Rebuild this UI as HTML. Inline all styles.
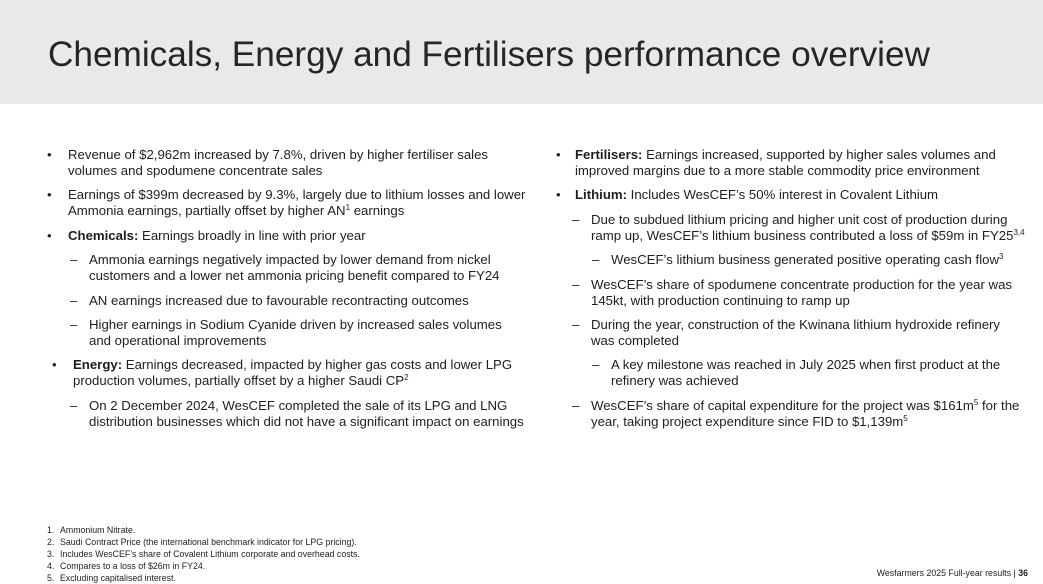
<!DOCTYPE html>
<html>
<head>
<meta charset="utf-8">
<style>
  html, body { margin:0; padding:0; }
  body { width:1043px; height:584px; position:relative; overflow:hidden; background:#ffffff;
         font-family:"Liberation Sans", Arial, sans-serif; color:#1e1e1e; }
  .hdr { position:absolute; left:0; top:0; width:1043px; height:104px; background:#e8e9e9; }
  .title { position:absolute; left:48px; top:37px; font-size:35.2px; line-height:35px; color:#262626; white-space:nowrap; letter-spacing:0; }
  .col { position:absolute; top:147px; font-size:13.2px; line-height:16px; white-space:nowrap; }
  .p { position:relative; margin-bottom:8.4px; }
  .p .m { position:absolute; top:0; }
  b { font-weight:bold; }
  sup { font-size:8px; line-height:0; vertical-align:0; position:relative; top:-5px; }
  .fn { position:absolute; left:0; top:524px; font-size:8.8px; line-height:12px; white-space:nowrap; color:#1e1e1e; }
  .fn div { position:relative; padding-left:60px; }
  .fn span.n { position:absolute; left:47px; }
  .ft { position:absolute; right:15px; top:567px; font-size:8.8px; line-height:12px; white-space:nowrap; color:#1e1e1e; }
</style>
</head>
<body>
<div class="hdr"></div>
<div class="title">Chemicals, Energy and Fertilisers performance overview</div>

<!-- Left column -->
<div class="col" style="left:0;">
  <div class="p" style="padding-left:68px;"><span class="m" style="left:47px;">•</span>Revenue of $2,962m increased by 7.8%, driven by higher fertiliser sales<br>volumes and spodumene concentrate sales</div>
  <div class="p" style="padding-left:68px;"><span class="m" style="left:47px;">•</span>Earnings of $399m decreased by 9.3%, largely due to lithium losses and lower<br>Ammonia earnings, partially offset by higher AN<sup>1</sup> earnings</div>
  <div class="p" style="padding-left:68px;"><span class="m" style="left:47px;">•</span><b>Chemicals:</b> Earnings broadly in line with prior year</div>
  <div class="p" style="padding-left:89px;"><span class="m" style="left:70px;">–</span>Ammonia earnings negatively impacted by lower demand from nickel<br>customers and a lower net ammonia pricing benefit compared to FY24</div>
  <div class="p" style="padding-left:89px;"><span class="m" style="left:70px;">–</span>AN earnings increased due to favourable recontracting outcomes</div>
  <div class="p" style="padding-left:89px;"><span class="m" style="left:70px;">–</span>Higher earnings in Sodium Cyanide driven by increased sales volumes<br>and operational improvements</div>
  <div class="p" style="padding-left:73px;"><span class="m" style="left:52px;">•</span><b>Energy:</b> Earnings decreased, impacted by higher gas costs and lower LPG<br>production volumes, partially offset by a higher Saudi CP<sup>2</sup></div>
  <div class="p" style="padding-left:89px;"><span class="m" style="left:70px;">–</span>On 2 December 2024, WesCEF completed the sale of its LPG and LNG<br>distribution businesses which did not have a significant impact on earnings</div>
</div>

<!-- Right column -->
<div class="col" style="left:0;">
  <div class="p" style="padding-left:575px;"><span class="m" style="left:556px;">•</span><b>Fertilisers:</b> Earnings increased, supported by higher sales volumes and<br>improved margins due to a more stable commodity price environment</div>
  <div class="p" style="padding-left:575px;"><span class="m" style="left:556px;">•</span><b>Lithium:</b> Includes WesCEF’s 50% interest in Covalent Lithium</div>
  <div class="p" style="padding-left:591px;"><span class="m" style="left:572px;">–</span>Due to subdued lithium pricing and higher unit cost of production during<br>ramp up, WesCEF’s lithium business contributed a loss of $59m in FY25<sup>3,4</sup></div>
  <div class="p" style="padding-left:611px;"><span class="m" style="left:592px;">–</span>WesCEF’s lithium business generated positive operating cash flow<sup>3</sup></div>
  <div class="p" style="padding-left:591px;"><span class="m" style="left:572px;">–</span>WesCEF’s share of spodumene concentrate production for the year was<br>145kt, with production continuing to ramp up</div>
  <div class="p" style="padding-left:591px;"><span class="m" style="left:572px;">–</span>During the year, construction of the Kwinana lithium hydroxide refinery<br>was completed</div>
  <div class="p" style="padding-left:611px;"><span class="m" style="left:592px;">–</span>A key milestone was reached in July 2025 when first product at the<br>refinery was achieved</div>
  <div class="p" style="padding-left:591px;"><span class="m" style="left:572px;">–</span>WesCEF’s share of capital expenditure for the project was $161m<sup>5</sup> for the<br>year, taking project expenditure since FID to $1,139m<sup>5</sup></div>
</div>

<div class="fn">
  <div><span class="n">1.</span>Ammonium Nitrate.</div>
  <div><span class="n">2.</span>Saudi Contract Price (the international benchmark indicator for LPG pricing).</div>
  <div><span class="n">3.</span>Includes WesCEF’s share of Covalent Lithium corporate and overhead costs.</div>
  <div><span class="n">4.</span>Compares to a loss of $26m in FY24.</div>
  <div><span class="n">5.</span>Excluding capitalised interest.</div>
</div>

<div class="ft">Wesfarmers 2025 Full-year results | <b>36</b></div>
</body>
</html>
